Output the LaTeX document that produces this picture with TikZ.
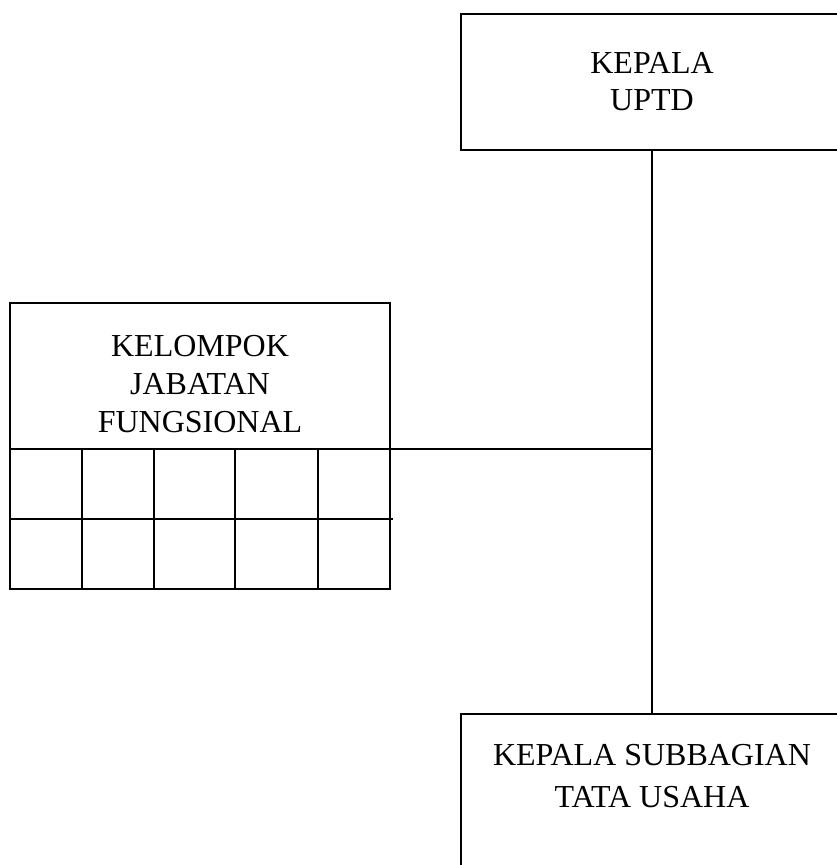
\documentclass[tikz,border=0pt]{standalone}
\usepackage{fontspec}
\setmainfont{Liberation Serif}
\usetikzlibrary{positioning,calc}

\begin{document}
\begin{tikzpicture}[
      x=1pt, y=-1pt,
      orgbox/.style={rectangle, draw, line width=1.8pt, minimum width=382pt, inner sep=0pt, outer sep=0pt, align=center, font=\fontsize{32}{37}\selectfont},
      boxtext/.style={align=center, inner sep=0pt, font=\fontsize{32}{38}\selectfont},
      cell/.style={line width=1.5pt},
      link/.style={line width=1.6pt}
    ]
      \useasboundingbox (0,0) rectangle (836,865);

      % Head of unit
      \node[orgbox, minimum height=136pt] (kepala) at (652,82) {KEPALA\\UPTD};

      % Admin subdivision
      \node[orgbox, anchor=north, minimum height=200pt] (kasubag) at (652,714) {};
      \node[boxtext, font=\fontsize{32}{42}\selectfont] (kasubagtext) at (652,776) {KEPALA SUBBAGIAN\\TATA USAHA};

      % Functional group
      \node[orgbox, minimum width=380pt, minimum height=146pt] (kjf) at (200,376) {};
      \node[boxtext] (kjftext) at (200,384) {KELOMPOK\\JABATAN\\FUNGSIONAL};

      % Grid under functional group
      \draw[cell] (kjf.south west) rectangle (390,589);
      \draw[cell] (10,519) -- (393,519);
      \foreach \x in {82,154,235,318}
        \draw[cell] (\x,449) -- (\x,589);

      % Lines
      \coordinate (junction) at (kepala.south |- kjf.south east);
      \draw[link] (kepala.south) -- (kasubag.north);
      \draw[link] (kjf.south east) -- (junction);

    \end{tikzpicture}
\end{document}
